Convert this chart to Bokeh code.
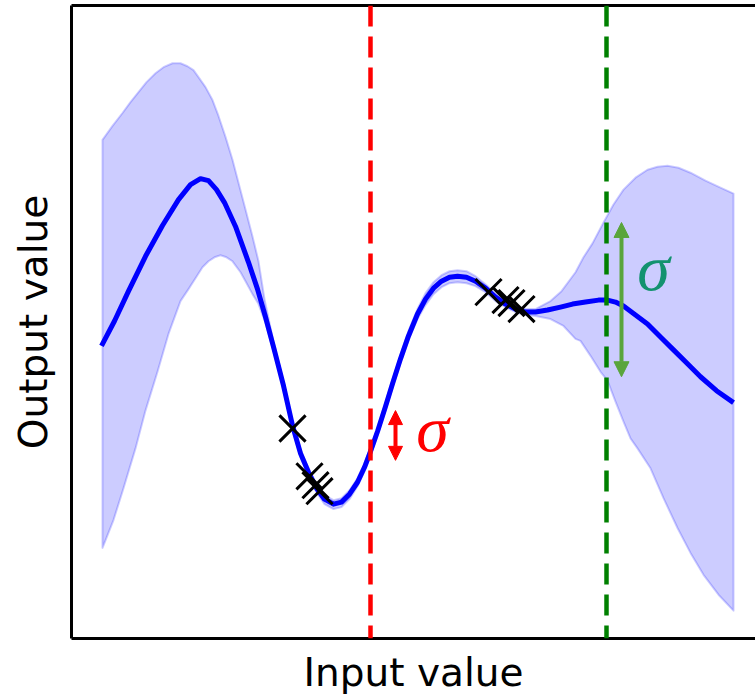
from bokeh.plotting import figure
from bokeh.models import Range1d, FixedTicker, LinearAxis, Span, Arrow, NormalHead, Label
from bokeh.embed import file_html
from bokeh.resources import INLINE

# ---- data (input units, output units) ----
mean_x = [30, 43, 57, 74, 91, 107, 119, 129, 137, 145, 153, 164, 177, 186, 194, 202, 212, 221, 229,
          237, 245, 253, 262, 270, 278, 286, 293, 299, 306, 314, 321, 329, 337, 346, 354, 362, 370,
          378, 386, 395, 404, 414, 424, 434, 444, 454, 464, 476, 489, 501, 514, 527, 536, 544, 552,
          564, 576, 589, 602, 616, 629, 645, 662]
mean_y = [294, 319, 349, 384, 415, 441, 456, 462, 460, 451, 438, 414, 378, 351, 323, 293, 254, 214, 186,
          167, 151, 140, 135, 137, 145, 157, 172, 188, 208, 233, 256, 281, 304, 326, 341, 352, 359,
          363, 364, 363, 359, 352, 343, 336, 331, 328, 328, 330, 333, 336, 338, 340, 340, 338, 334,
          325, 316, 303, 290, 276, 263, 249, 237]

upper_x = [31, 41, 51, 59, 67, 75, 84, 92, 101, 109, 116, 122, 127, 134, 141, 147, 154, 161, 167, 174,
           181, 187, 193, 202, 212, 221, 229, 237, 245, 253, 262, 270, 278, 286, 293, 299, 306, 314,
           321, 329, 337, 346, 354, 362, 370, 378, 386, 395, 404, 414, 424, 434, 444, 454, 464, 479,
           490, 504, 512, 521, 532, 542, 552, 564, 576, 586, 596, 607, 619, 634, 649, 662]
upper_y = [501, 515, 528, 539, 549, 559, 568, 574, 578, 578, 575, 571, 564, 554, 541, 525, 504, 481, 458,
           431, 404, 379, 341, 298, 258, 218, 190, 171, 155, 144, 139, 141, 149, 161, 176, 192, 212, 237,
           260, 285, 309, 331, 347, 358, 365, 369, 370, 369, 364, 356, 347, 339, 334, 331, 331, 339,
           349, 368, 383, 397, 418, 436, 451, 463, 471, 474, 475, 473, 468, 460, 453, 447]

lower_x = [31, 42, 52, 64, 74, 86, 97, 109, 117, 124, 131, 137, 143, 149, 155, 161, 169, 174, 181, 187,
           194, 202, 212, 221, 229, 237, 245, 253, 262, 270, 278, 286, 293, 299, 306, 314, 321, 329,
           337, 346, 354, 362, 370, 378, 386, 395, 404, 414, 424, 434, 444, 454, 464, 479, 492, 504,
           509, 519, 529, 536, 544, 552, 559, 566, 579, 592, 606, 619, 632, 647, 662]
lower_y = [91, 119, 151, 191, 229, 268, 306, 339, 351, 362, 373, 379, 383, 385, 383, 379, 368, 359, 346,
           336, 317, 289, 250, 210, 182, 163, 147, 135, 130, 132, 140, 153, 168, 184, 204, 229, 252,
           277, 300, 321, 335, 346, 353, 357, 358, 357, 354, 348, 339, 333, 328, 325, 324, 321, 314,
           301, 299, 284, 268, 259, 238, 218, 201, 191, 171, 141, 111, 86, 64, 44, 28]

obs_x = [221, 238, 244, 248, 417, 434, 440, 450]
obs_y = [211, 163, 154, 148, 348, 340, 337, 331]

red_query = 299
green_query = 535
red_sigma = (229, 179)     # arrow top / bottom at x=324
green_sigma = (418, 263)   # arrow top / bottom at x=550

p = figure(width=755, height=697, output_backend="svg", toolbar_location=None,
           x_range=Range1d(0, 684), y_range=Range1d(0, 636),
           min_border_left=71, min_border_right=0, min_border_top=5, min_border_bottom=56)
p.outline_line_color = None
p.grid.visible = False
p.background_fill_color = "white"
p.border_fill_color = "white"

for ax in (p.xaxis[0], p.yaxis[0]):
    ax.ticker = FixedTicker(ticks=[])
    ax.axis_line_width = 3
    ax.axis_line_color = "black"
    ax.major_tick_out = 0
    ax.minor_tick_out = 0
    ax.major_label_text_font_size = "0px"
    ax.major_label_standoff = 0
    ax.axis_label_text_font = "DejaVu Sans"
    ax.axis_label_text_font_size = "39px"
    ax.axis_label_text_font_style = "normal"
    ax.axis_label_text_color = "black"
p.xaxis.axis_label = "Input value"
p.yaxis.axis_label = "Output value"
p.xaxis.axis_label_standoff = 11
p.yaxis.axis_label_standoff = 16

top = LinearAxis(ticker=FixedTicker(ticks=[]), axis_line_width=3, major_tick_out=0, minor_tick_out=0,
                 major_label_text_font_size="0px", major_label_standoff=0)
p.add_layout(top, "above")

# uncertainty band
poly_x = upper_x + lower_x[::-1]
poly_y = upper_y + lower_y[::-1]
p.patch(poly_x, poly_y, fill_color="blue", fill_alpha=0.2, line_color="blue", line_alpha=0.2,
        line_width=2, line_join="round")

# mean
p.line(mean_x, mean_y, line_color="blue", line_width=5, line_join="round")

# observations
p.scatter(obs_x, obs_y, marker="x", size=37, line_color="black", line_width=3)

# query lines
p.add_layout(Span(location=red_query, dimension="height", line_color="red", line_width=4.5, line_dash="21 10"))
p.add_layout(Span(location=green_query, dimension="height", line_color="green", line_width=4.5, line_dash="21 10"))

# sigma arrows
p.add_layout(Arrow(x_start=324, y_start=red_sigma[1], x_end=324, y_end=red_sigma[0],
                   line_color="red", line_width=4,
                   start=NormalHead(size=14, fill_color="red", line_color="red"),
                   end=NormalHead(size=14, fill_color="red", line_color="red")))
p.add_layout(Arrow(x_start=550, y_start=green_sigma[1], x_end=550, y_end=green_sigma[0],
                   line_color="#5aa53c", line_width=4,
                   start=NormalHead(size=15, fill_color="#5aa53c", line_color="#5aa53c"),
                   end=NormalHead(size=15, fill_color="#5aa53c", line_color="#5aa53c")))

p.add_layout(Label(x=361, y=211, text="σ", text_color="red", text_font="Liberation Serif",
                   text_font_style="italic", text_font_size="66px", text_align="center", text_baseline="middle"))
p.add_layout(Label(x=582, y=373, text="σ", text_color="#13926f", text_font="Liberation Serif",
                   text_font_style="italic", text_font_size="66px", text_align="center", text_baseline="middle"))

open("out.html", "w").write(file_html(p, INLINE))
